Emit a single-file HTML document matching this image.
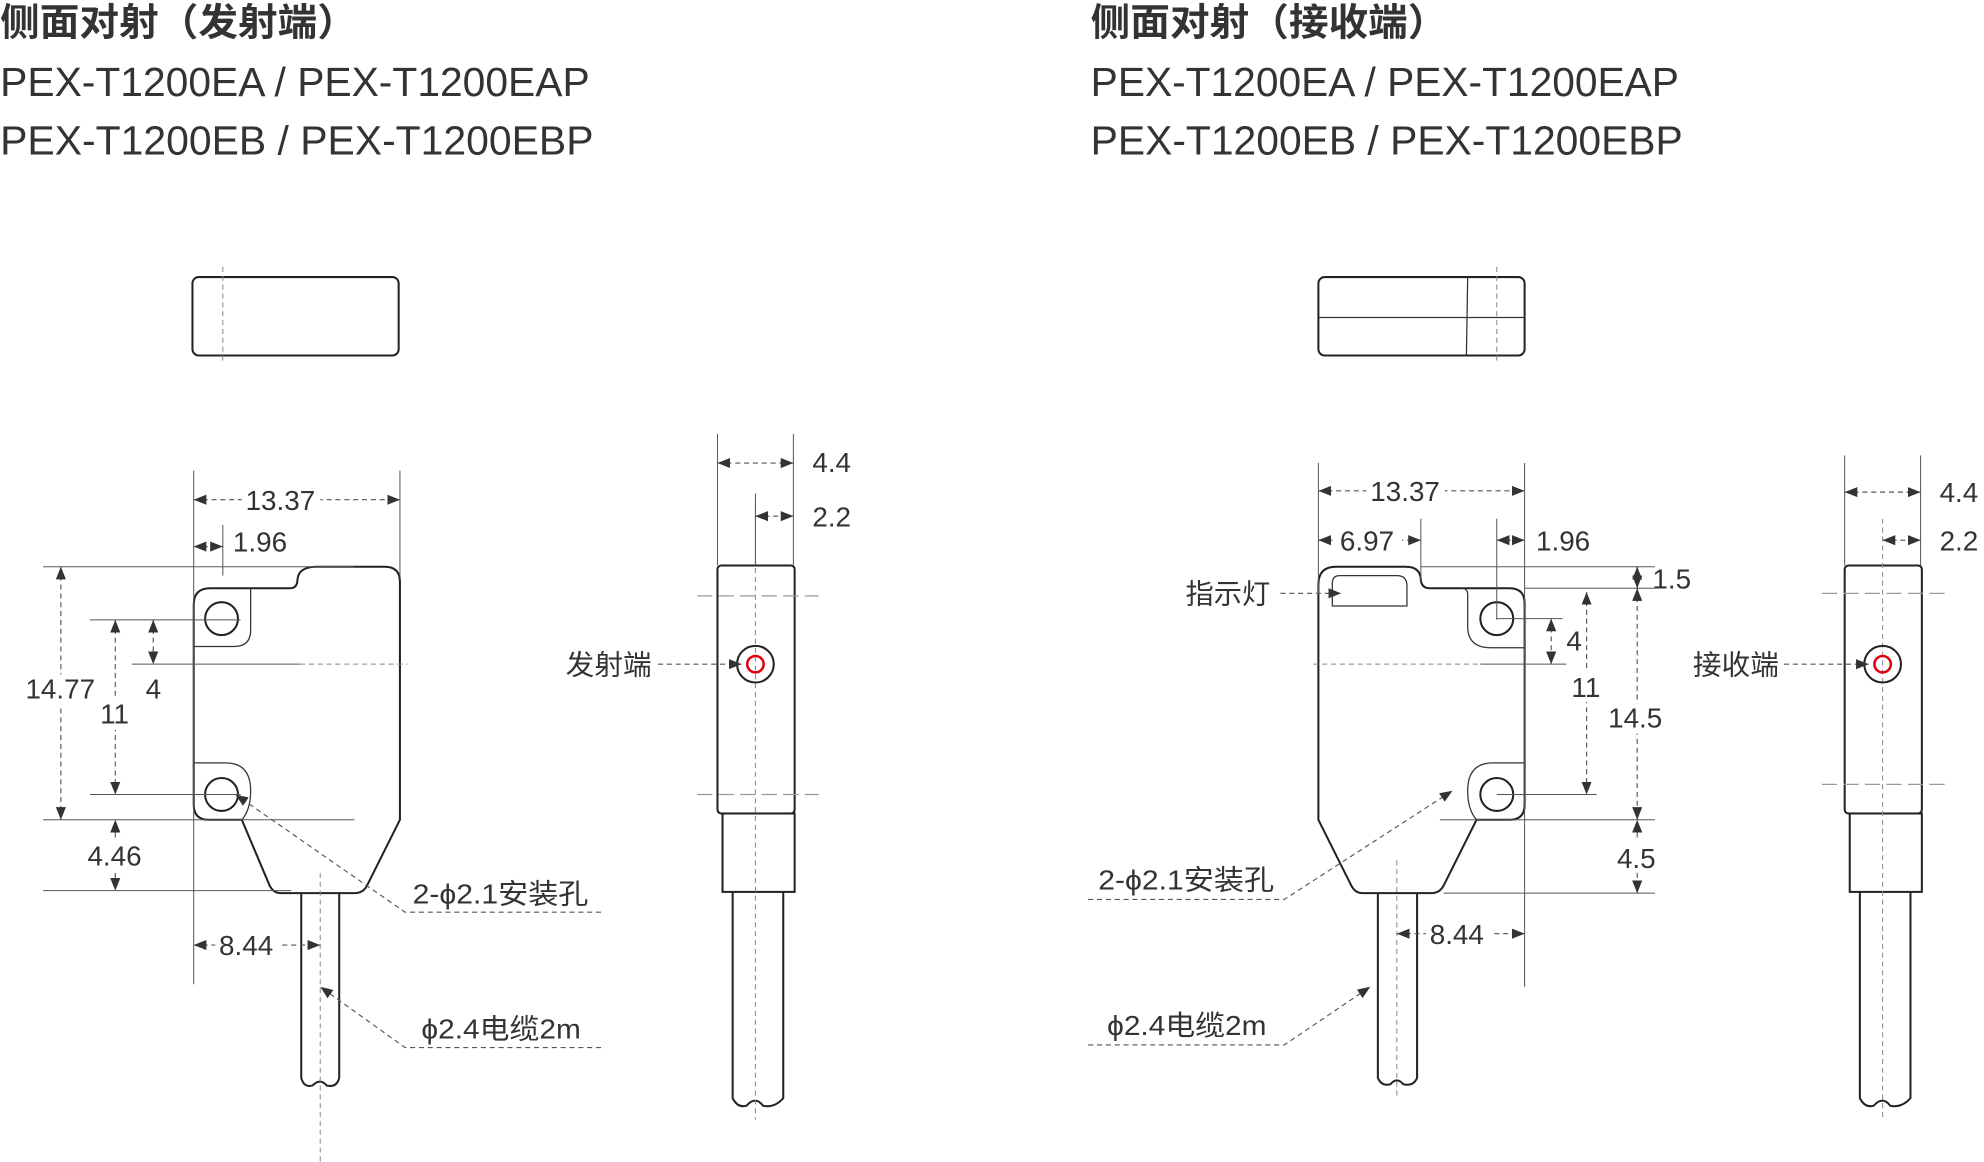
<!DOCTYPE html>
<html><head><meta charset="utf-8"><style>
html,body{margin:0;padding:0;background:#fff;}
svg{display:block;}
text{font-family:"Liberation Sans","Noto Sans CJK SC",sans-serif;fill:#333;}
.o{fill:none;stroke:#222;stroke-width:1.6;}
.t{fill:none;stroke:#333;stroke-width:1;}
.e{fill:none;stroke:#555;stroke-width:0.8;}
.d{fill:none;stroke:#555;stroke-width:0.9;stroke-dasharray:4 3;}
.c{fill:none;stroke:#888;stroke-width:0.8;stroke-dasharray:4 3;}
.dd{fill:none;stroke:#999;stroke-width:1;stroke-dasharray:12 5;}
.lb{font-size:22px;}
</style></head><body>
<svg width="1984" height="1162" viewBox="0 0 1568 918.5" xmlns="http://www.w3.org/2000/svg">
<defs>
<marker id="a" viewBox="0 0 10 8" refX="10" refY="4" markerWidth="10" markerHeight="8.5" markerUnits="userSpaceOnUse" orient="auto-start-reverse"><path d="M0,0 L10,4 L0,8 z" fill="#333"/></marker>
</defs>

<text x="0" y="28" font-size="30" font-weight="bold" textLength="282" lengthAdjust="spacingAndGlyphs">侧面对射（发射端）</text>
<text x="0" y="76" font-size="32" textLength="466" lengthAdjust="spacingAndGlyphs">PEX-T1200EA / PEX-T1200EAP</text>
<text x="0" y="122" font-size="32" textLength="469" lengthAdjust="spacingAndGlyphs">PEX-T1200EB / PEX-T1200EBP</text>
<text x="862" y="28" font-size="30" font-weight="bold" textLength="282" lengthAdjust="spacingAndGlyphs">侧面对射（接收端）</text>
<text x="862" y="76" font-size="32" textLength="465" lengthAdjust="spacingAndGlyphs">PEX-T1200EA / PEX-T1200EAP</text>
<text x="862" y="122" font-size="32" textLength="468" lengthAdjust="spacingAndGlyphs">PEX-T1200EB / PEX-T1200EBP</text>

<!-- LEFT -->
<rect x="152" y="219" width="163" height="62" rx="5" class="o"/>
<line x1="176" y1="211" x2="176" y2="288" class="c"/>
<path class="o" d="M153,478 Q153,465 166,465 L229,465 Q235,465 235,458 Q236,448 250,448 L304,448 Q316,448 316,460 L316,648 L290,700 Q287,706 280,706 L222,706 Q216,706 213,700 L191,648 L165,648 Q153,648 153,636 Z"/>
<path class="t" d="M153,511 L185,511 Q198,511 198,498 L198,465"/>
<path class="t" d="M153,603 L178,603 Q198,603 198,625 Q198,640 191,648"/>
<circle cx="175" cy="489" r="13" class="o"/>
<circle cx="175" cy="628" r="13" class="o"/>
<line x1="104" y1="525" x2="237" y2="525" class="e"/>
<line x1="237" y1="525" x2="322" y2="525" class="c"/>
<path class="o" d="M238,706 L238,852 Q240,860 247,858 Q253,852 258,858 Q266,860 268,852 L268,706"/>
<line x1="253" y1="690" x2="253" y2="918" class="c"/>

<line x1="153" y1="372" x2="153" y2="778" class="e"/>
<line x1="316" y1="372" x2="316" y2="456" class="e"/>
<line x1="153" y1="395" x2="316" y2="395" class="d" marker-start="url(#a)" marker-end="url(#a)"/>
<rect x="191" y="383" width="62" height="22" fill="#fff"/>
<text x="194" y="403" class="lb">13.37</text>
<line x1="176" y1="415" x2="176" y2="455" class="e"/>
<line x1="153" y1="432" x2="176" y2="432" class="d" marker-start="url(#a)" marker-end="url(#a)"/>
<text x="184" y="436" class="lb">1.96</text>
<line x1="34" y1="448" x2="280" y2="448" class="e"/>
<line x1="34" y1="648" x2="280" y2="648" class="e"/>
<line x1="48" y1="448" x2="48" y2="648" class="d" marker-start="url(#a)" marker-end="url(#a)"/>
<rect x="18" y="533" width="60" height="24" fill="#fff"/>
<text x="20" y="552" class="lb">14.77</text>
<line x1="71" y1="490" x2="190" y2="490" class="e"/>
<line x1="71" y1="628" x2="190" y2="628" class="e"/>
<line x1="91" y1="490" x2="91" y2="628" class="d" marker-start="url(#a)" marker-end="url(#a)"/>
<rect x="78" y="553" width="28" height="24" fill="#fff"/>
<text x="79" y="572" class="lb">11</text>
<line x1="121" y1="490" x2="121" y2="525" class="d" marker-start="url(#a)" marker-end="url(#a)"/>
<text x="115" y="552" class="lb">4</text>
<line x1="34" y1="704" x2="230" y2="704" class="e"/>
<line x1="91" y1="662" x2="91" y2="648" class="d" marker-end="url(#a)"/>
<line x1="91" y1="690" x2="91" y2="704" class="d" marker-end="url(#a)"/>
<text x="69" y="684" class="lb">4.46</text>
<line x1="153" y1="747" x2="253" y2="747" class="d" marker-start="url(#a)" marker-end="url(#a)"/>
<rect x="170" y="735" width="52" height="22" fill="#fff"/>
<text x="173" y="755" class="lb">8.44</text>
<text x="326" y="714" class="lb" textLength="139" lengthAdjust="spacingAndGlyphs">2-ϕ2.1安装孔</text>
<polyline points="475,721 320,721 186,628" class="d" marker-end="url(#a)"/>
<text x="333" y="821" class="lb" textLength="126" lengthAdjust="spacingAndGlyphs">ϕ2.4电缆2m</text>
<polyline points="475,828 320,828 253,780" class="d" marker-end="url(#a)"/>

<rect x="567" y="447" width="61" height="196" rx="3" class="o"/>
<rect x="571" y="643" width="57" height="62" class="o"/>
<path class="o" d="M579,705 L579,868 Q583,876 590,874 Q597,866 603,874 Q612,876 619,868 L619,705"/>
<line x1="597" y1="400" x2="597" y2="885" class="c"/>
<line x1="551" y1="471" x2="647" y2="471" class="dd"/>
<line x1="551" y1="628" x2="647" y2="628" class="dd"/>
<line x1="567" y1="343" x2="567" y2="447" class="e"/>
<line x1="627" y1="343" x2="627" y2="447" class="e"/>
<line x1="597" y1="390" x2="597" y2="447" class="e"/>
<line x1="567" y1="366" x2="627" y2="366" class="d" marker-start="url(#a)" marker-end="url(#a)"/>
<text x="642" y="373" class="lb">4.4</text>
<line x1="597" y1="408" x2="627" y2="408" class="d" marker-start="url(#a)" marker-end="url(#a)"/>
<text x="642" y="416" class="lb">2.2</text>
<circle cx="597" cy="525" r="14.5" class="o"/>
<circle cx="597" cy="525" r="6.5" fill="none" stroke="#e00012" stroke-width="2"/>
<text x="447" y="533" class="lb" textLength="68" lengthAdjust="spacingAndGlyphs">发射端</text>
<line x1="520" y1="525" x2="586" y2="525" class="d" marker-end="url(#a)"/>

<!-- RIGHT -->
<rect x="1042" y="219" width="163" height="62" rx="5" class="o"/>
<line x1="1042" y1="251" x2="1205" y2="251" class="t"/>
<line x1="1160" y1="219" x2="1159" y2="281" class="t"/>
<line x1="1183" y1="211" x2="1183" y2="288" class="c"/>
<path class="o" d="M1042,648 L1042,462 Q1042,448 1056,448 L1111,448 Q1123,448 1123,459 Q1124,465 1130,465 L1193,465 Q1205,465 1205,477 L1205,636 Q1205,648 1193,648 L1167,648 L1141,700 Q1138,706 1131,706 L1077,706 Q1071,706 1068,700 Z"/>
<path class="t" d="M1053,479 L1053,461 Q1053,455 1059,455 L1104,455 Q1112,455 1112,463 L1112,479 Z"/>
<path class="t" d="M1205,512 L1178,512 Q1160,512 1160,495 L1160,470 Q1160,465 1155,465"/>
<path class="t" d="M1205,603 L1180,603 Q1160,603 1160,625 Q1160,640 1167,648"/>
<circle cx="1183" cy="489" r="13" class="o"/>
<circle cx="1183" cy="628" r="13" class="o"/>
<line x1="1038" y1="525" x2="1170" y2="525" class="c"/>
<line x1="1170" y1="525" x2="1238" y2="525" class="e"/>
<path class="o" d="M1089,706 L1089,852 Q1092,859 1099,857 Q1104,851 1109,857 Q1117,859 1120,852 L1120,706"/>
<line x1="1104" y1="680" x2="1104" y2="868" class="c"/>

<line x1="1042" y1="366" x2="1042" y2="470" class="e"/>
<line x1="1205" y1="366" x2="1205" y2="780" class="e"/>
<line x1="1042" y1="388" x2="1205" y2="388" class="d" marker-start="url(#a)" marker-end="url(#a)"/>
<rect x="1080" y="376" width="62" height="22" fill="#fff"/>
<text x="1083" y="396" class="lb">13.37</text>
<line x1="1123" y1="410" x2="1123" y2="460" class="e"/>
<line x1="1042" y1="427" x2="1123" y2="427" class="d" marker-start="url(#a)" marker-end="url(#a)"/>
<rect x="1056" y="415" width="52" height="22" fill="#fff"/>
<text x="1059" y="435" class="lb">6.97</text>
<line x1="1183" y1="410" x2="1183" y2="490" class="e"/>
<line x1="1183" y1="427" x2="1205" y2="427" class="d" marker-start="url(#a)" marker-end="url(#a)"/>
<text x="1214" y="435" class="lb">1.96</text>
<line x1="1123" y1="448" x2="1308" y2="448" class="e"/>
<line x1="1205" y1="465" x2="1308" y2="465" class="e"/>
<line x1="1294" y1="456" x2="1294" y2="448" class="t" marker-end="url(#a)"/>
<line x1="1294" y1="457" x2="1294" y2="465" class="t" marker-end="url(#a)"/>
<text x="1306" y="465" class="lb">1.5</text>
<line x1="1294" y1="465" x2="1294" y2="648" class="d" marker-start="url(#a)" marker-end="url(#a)"/>
<rect x="1270" y="556" width="48" height="24" fill="#fff"/>
<text x="1271" y="575" class="lb">14.5</text>
<line x1="1254" y1="468" x2="1254" y2="628" class="d" marker-start="url(#a)" marker-end="url(#a)"/>
<line x1="1183" y1="628" x2="1262" y2="628" class="e"/>
<rect x="1241" y="531" width="28" height="24" fill="#fff"/>
<text x="1242" y="551" class="lb">11</text>
<line x1="1183" y1="489" x2="1235" y2="489" class="e"/>
<line x1="1226" y1="489" x2="1226" y2="525" class="d" marker-start="url(#a)" marker-end="url(#a)"/>
<text x="1238" y="514" class="lb">4</text>
<line x1="1138" y1="648" x2="1308" y2="648" class="e"/>
<line x1="1141" y1="706" x2="1308" y2="706" class="e"/>
<line x1="1294" y1="662" x2="1294" y2="648" class="d" marker-end="url(#a)"/>
<line x1="1294" y1="690" x2="1294" y2="706" class="d" marker-end="url(#a)"/>
<text x="1278" y="686" class="lb">4.5</text>
<line x1="1104" y1="738" x2="1205" y2="738" class="d" marker-start="url(#a)" marker-end="url(#a)"/>
<rect x="1127" y="726" width="52" height="22" fill="#fff"/>
<text x="1130" y="746" class="lb">8.44</text>
<text x="937" y="477" class="lb" textLength="67" lengthAdjust="spacingAndGlyphs">指示灯</text>
<line x1="1012" y1="469" x2="1060" y2="469" class="d" marker-end="url(#a)"/>
<text x="868" y="703" class="lb" textLength="139" lengthAdjust="spacingAndGlyphs">2-ϕ2.1安装孔</text>
<polyline points="860,711 1015,711 1148,625" class="d" marker-end="url(#a)"/>
<text x="875" y="818" class="lb" textLength="126" lengthAdjust="spacingAndGlyphs">ϕ2.4电缆2m</text>
<polyline points="860,826 1015,826 1083,780" class="d" marker-end="url(#a)"/>

<rect x="1458" y="447" width="61" height="196" rx="3" class="o"/>
<rect x="1462" y="643" width="57" height="62" class="o"/>
<path class="o" d="M1470,705 L1470,868 Q1474,876 1481,874 Q1488,866 1494,874 Q1503,876 1510,868 L1510,705"/>
<line x1="1488" y1="410" x2="1488" y2="885" class="c"/>
<line x1="1440" y1="469" x2="1540" y2="469" class="dd"/>
<line x1="1440" y1="620" x2="1540" y2="620" class="dd"/>
<line x1="1458" y1="360" x2="1458" y2="447" class="e"/>
<line x1="1518" y1="360" x2="1518" y2="447" class="e"/>
<line x1="1458" y1="389" x2="1518" y2="389" class="d" marker-start="url(#a)" marker-end="url(#a)"/>
<text x="1533" y="397" class="lb">4.4</text>
<line x1="1488" y1="427" x2="1518" y2="427" class="d" marker-start="url(#a)" marker-end="url(#a)"/>
<text x="1533" y="435" class="lb">2.2</text>
<circle cx="1488" cy="525" r="14.5" class="o"/>
<circle cx="1488" cy="525" r="6.5" fill="none" stroke="#e00012" stroke-width="2"/>
<text x="1338" y="533" class="lb" textLength="68" lengthAdjust="spacingAndGlyphs">接收端</text>
<line x1="1410" y1="525" x2="1477" y2="525" class="d" marker-end="url(#a)"/>
</svg>
</body></html>
